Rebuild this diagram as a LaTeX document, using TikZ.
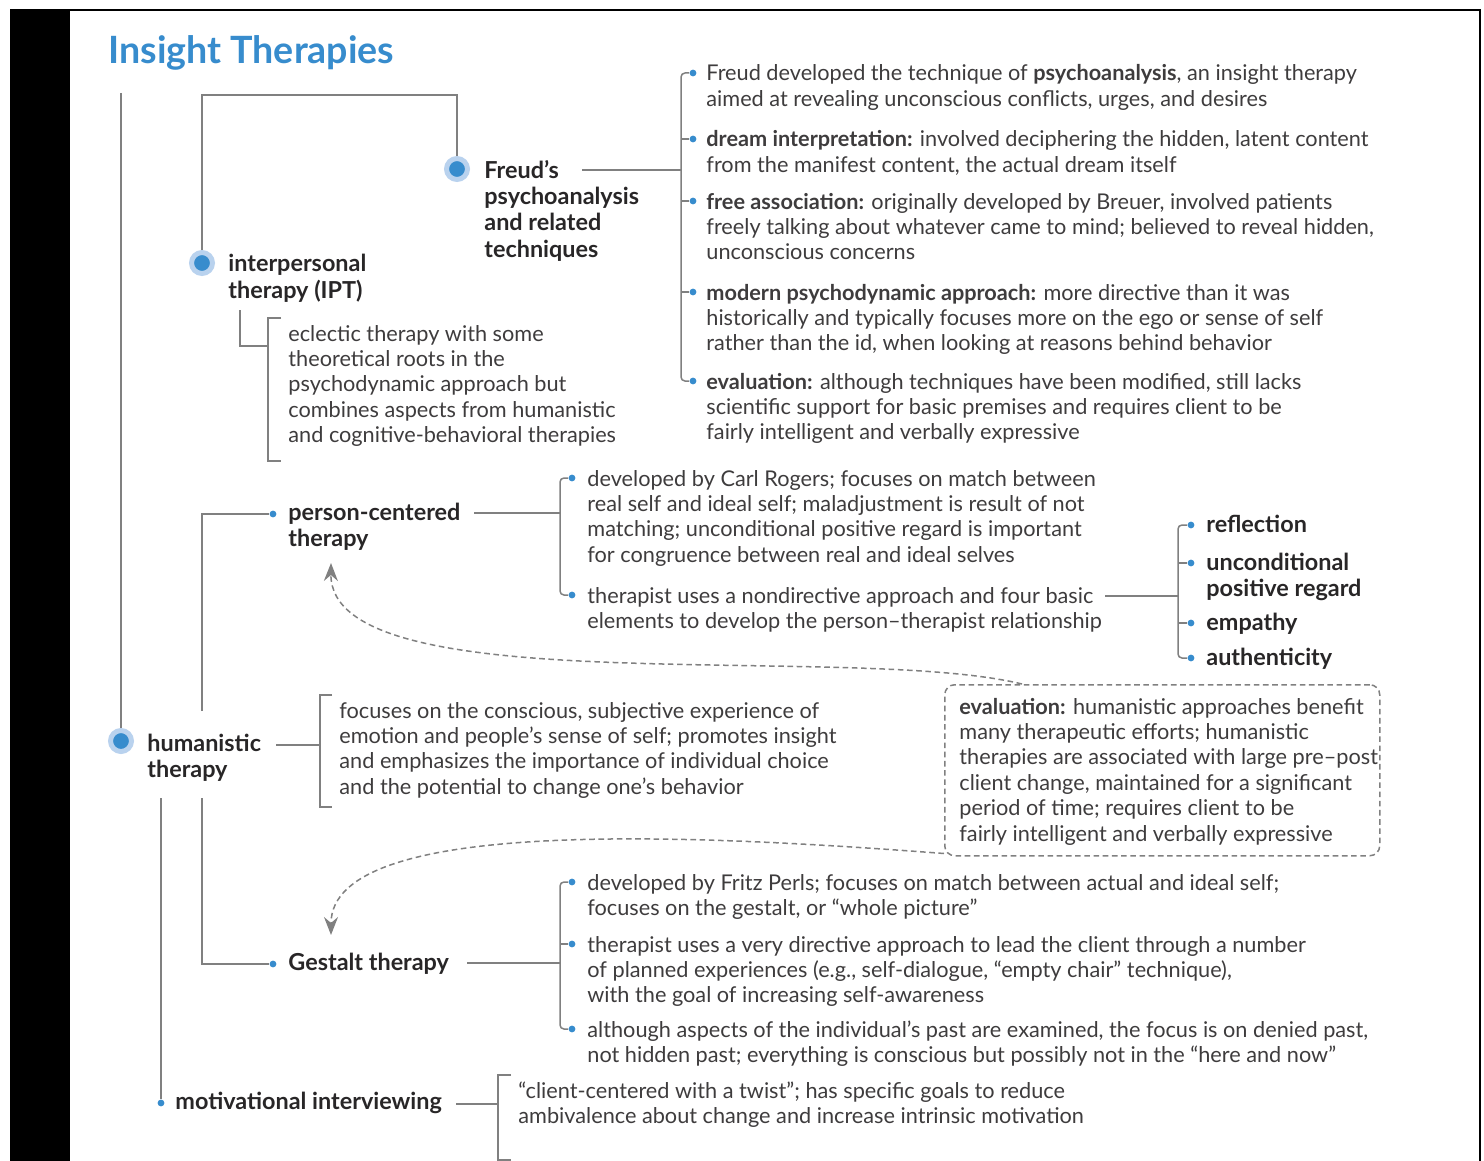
\documentclass[tikz,border=0pt]{standalone}
\usepackage{fontspec}
\setmainfont{Lato}
\usetikzlibrary{arrows.meta}
\definecolor{insightblue}{RGB}{55,140,205}
\definecolor{halo}{RGB}{185,210,238}
\definecolor{linegray}{RGB}{128,128,128}
\definecolor{inkgray}{RGB}{40,38,39}
\definecolor{softink}{RGB}{62,60,61}
\begin{document}
\begin{tikzpicture}[
    x=0.5pt, y=-0.5pt,
    link/.style={draw=linegray, line width=0.75pt},
    spine/.style={link, rounded corners=2pt},
    bigdot/.style={circle, fill=insightblue, draw=halo, line width=2.5pt, minimum size=10.5pt, inner sep=0},
    smalldot/.style={circle, fill=insightblue, minimum size=3.4pt, inner sep=0},
    head/.style={anchor=base west, align=left, inner sep=0, text=inkgray, font=\fontsize{11.7}{13.2}\selectfont\bfseries},
    body/.style={anchor=base west, align=left, inner sep=0, text=softink, font=\fontsize{10.85}{12.7}\selectfont},
    dashline/.style={draw=linegray, line width=0.75pt, dash pattern=on 2.8pt off 1.8pt},
    evalbox/.style={dashline, rounded corners=5pt, anchor=north west, minimum width=217.5pt, minimum height=85.5pt}
]
\useasboundingbox (0,0) rectangle (1484,1161);
\fill[black] (10,10) rectangle (70,1161);
\draw[line width=1pt] (10,10) -- (1480,10) -- (1480,1161);

\node[anchor=base west, inner sep=0, text=insightblue, font=\fontsize{18.8}{22}\selectfont\bfseries] (title) at (108,64) {Insight Therapies};

% main branches
\node[bigdot] (freuddot) at (457,169) {};
\node[bigdot] (iptdot) at (202,263) {};
\node[bigdot] (humdot) at (121,741) {};
\node[smalldot] (pcdot) at (273,514) {};
\node[smalldot] (gtdot) at (273,964) {};
\node[smalldot] (midot) at (161,1103) {};

\node[head] (freud) at (484,257.2) {Freud's\\psychoanalysis\\and related\\techniques};
\node[head] (ipt) at (228,298.4) {interpersonal\\therapy (IPT)};
\node[head] (hum) at (147,777.4) {humanistic\\therapy};
\node[head] (pc) at (288,546.4) {person-centered\\therapy};
\node[head] (gt) at (288,970) {Gestalt therapy};
\node[head] (mi) at (175,1109) {motivational interviewing};

\coordinate (treetop) at (121,93);
\coordinate (ipttop) at (202,95);
\coordinate (humup) at (202,711);
\coordinate (humdown) at (202,798);
\coordinate (midown) at (161,798);
\draw[link] (treetop) -- (humdot);
\draw[link] (iptdot) -- (ipttop) -| (freuddot);
\draw[link] (humup) |- (pcdot);
\draw[link] (humdown) |- (gtdot);
\draw[link] (midown) -- (midot);

% Freud
\coordinate (freudend) at (582,170);
\coordinate (freudsp) at (681,170);
\node[smalldot] (f1) at (693,73) {};
\node[smalldot] (f2) at (693,139) {};
\node[smalldot] (f3) at (693,201) {};
\node[smalldot] (f4) at (693,292) {};
\node[smalldot] (f5) at (693,381) {};
\draw[link] (freudend) -- (freudsp);
\draw[spine] (f1) -| (freudsp) |- (f5);
\foreach \n in {f2,f3,f4} \draw[link] (freudsp |- \n) -- (\n);
\node[body] (f1t) at (706,106.4) {Freud developed the technique of \textbf{psychoanalysis}, an insight therapy\\aimed at revealing unconscious conflicts, urges, and desires};
\node[body] (f2t) at (706,172.4) {\textbf{dream interpretation:} involved deciphering the hidden, latent content\\from the manifest content, the actual dream itself};
\node[body] (f3t) at (706,259.8) {\textbf{free association:} originally developed by Breuer, involved patients\\freely talking about whatever came to mind; believed to reveal hidden,\\unconscious concerns};
\node[body] (f4t) at (706,350.8) {\textbf{modern psychodynamic approach:} more directive than it was\\historically and typically focuses more on the ego or sense of self\\rather than the id, when looking at reasons behind behavior};
\node[body] (f5t) at (706,439.8) {\textbf{evaluation:} although techniques have been modified, still lacks\\scientific support for basic premises and requires client to be\\fairly intelligent and verbally expressive};

% interpersonal
\coordinate (iptdown) at (240,310);
\coordinate (iptbr) at (268,346);
\draw[link] (iptdown) |- (iptbr);
\draw[link] (281,318) -- (268,318) -- (268,461) -- (281,461);
\node[body] (ipttext) at (288,442.6) {eclectic therapy with some\\theoretical roots in the\\psychodynamic approach but\\combines aspects from humanistic\\and cognitive-behavioral therapies};

% humanistic
\coordinate (humend) at (276,745);
\coordinate (humbr) at (320,745);
\draw[link] (humend) -- (humbr);
\draw[link] (332,695) -| (320,807) -- (332,807);
\node[body] (humtext) at (339,794.2) {focuses on the conscious, subjective experience of\\emotion and people's sense of self; promotes insight\\and emphasizes the importance of individual choice\\and the potential to change one's behavior};

% person-centered
\coordinate (pcend) at (474,513);
\coordinate (pcsp) at (560,513);
\node[smalldot] (pc1) at (572,478) {};
\node[smalldot] (pc2) at (572,595) {};
\draw[link] (pcend) -- (pcsp);
\draw[spine] (pc1) -| (pcsp) |- (pc2);
\node[body] (pc1t) at (587,562.2) {developed by Carl Rogers; focuses on match between\\real self and ideal self; maladjustment is result of not\\matching; unconditional positive regard is important\\for congruence between real and ideal selves};
\node[body] (pc2t) at (587,628.4) {therapist uses a nondirective approach and four basic\\elements to develop the person–therapist relationship};

\coordinate (elend) at (1105,596);
\coordinate (elsp) at (1178,596);
\node[smalldot] (el1) at (1191,525) {};
\node[smalldot] (el2) at (1191,563) {};
\node[smalldot] (el3) at (1191,623) {};
\node[smalldot] (el4) at (1191,658) {};
\draw[link] (elend) -- (elsp);
\draw[spine] (el1) -| (elsp) |- (el4);
\foreach \n in {el2,el3} \draw[link] (elsp |- \n) -- (\n);
\node[head] (el1t) at (1206,532) {reflection};
\node[head] (el2t) at (1206,596.4) {unconditional\\positive regard};
\node[head] (el3t) at (1206,630) {empathy};
\node[head] (el4t) at (1206,665) {authenticity};

% evaluation box
\node[evalbox] (evalbox) at (944,684) {};
\node[body] (evaltext) at (959,841) {\textbf{evaluation:} humanistic approaches benefit\\many therapeutic efforts; humanistic\\therapies are associated with large pre–post\\client change, maintained for a significant\\period of time; requires client to be\\fairly intelligent and verbally expressive};
\coordinate (pctip) at (331,563);
\coordinate (gttip) at (331,935);
\draw[dashline, -{Stealth[length=9pt, width=7pt, inset=3pt]}] ([xshift=39pt]evalbox.north west) .. controls (850,642) and (330,705) .. (pctip);
\draw[dashline, -{Stealth[length=9pt, width=7pt, inset=3pt]}] ([yshift=1.5pt]evalbox.south west) .. controls (700,835) and (331,815) .. (gttip);

% Gestalt
\coordinate (gtend) at (467,963);
\coordinate (gtsp) at (560,963);
\node[smalldot] (gt1) at (572,882) {};
\node[smalldot] (gt2) at (572,944) {};
\node[smalldot] (gt3) at (572,1029) {};
\draw[link] (gtend) -- (gtsp);
\draw[spine] (gt1) -| (gtsp) |- (gt3);
\draw[link] (gtsp |- gt2) -- (gt2);
\node[body] (gt1t) at (587,915.4) {developed by Fritz Perls; focuses on match between actual and ideal self;\\focuses on the gestalt, or “whole picture”};
\node[body] (gt2t) at (587,1002.8) {therapist uses a very directive approach to lead the client through a number\\of planned experiences (e.g., self-dialogue, “empty chair” technique),\\with the goal of increasing self-awareness};
\node[body] (gt3t) at (587,1062.4) {although aspects of the individual's past are examined, the focus is on denied past,\\not hidden past; everything is conscious but possibly not in the “here and now”};

% motivational interviewing
\coordinate (miend) at (456,1104);
\coordinate (mibr) at (498,1104);
\draw[link] (miend) -- (mibr);
\draw[link] (511,1075) -| (498,1160) -- (511,1160);
\node[body] (mitext) at (518,1123.4) {“client-centered with a twist”; has specific goals to reduce\\ambivalence about change and increase intrinsic motivation};
\end{tikzpicture}
\end{document}
